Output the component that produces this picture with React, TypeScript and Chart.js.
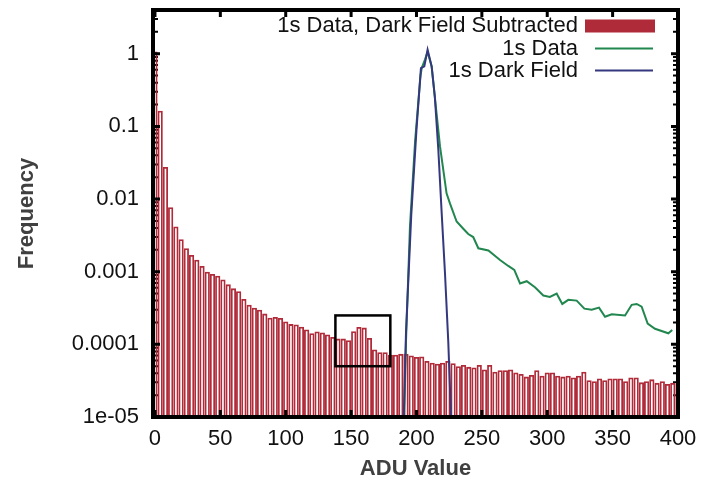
import React, { useEffect, useRef } from 'react';
import { Chart, registerables } from 'chart.js';

Chart.register(...registerables);

// ---------- data ----------
const binCenters = [
  0, 4, 8, 12, 16, 20, 24, 28, 32, 36, 40, 44, 48, 52, 56, 60, 64, 68, 72, 76,
  80, 84, 88, 92, 96, 100, 104, 108, 112, 116, 120, 124, 128, 132, 136, 140, 144, 148, 152, 156,
  160, 164, 168, 172, 176, 180, 184, 188, 192, 196, 200, 204, 208, 212, 216, 220, 224, 228, 232, 236,
  240, 244, 248, 252, 256, 260, 264, 268, 272, 276, 280, 284, 288, 292, 296, 300, 304, 308, 312, 316,
  320, 324, 328, 332, 336, 340, 344, 348, 352, 356, 360, 364, 368, 372, 376, 380, 384, 388, 392, 396, 400,
];

const subtractedFreq = [
  1.07, 0.164, 0.0276, 0.0077, 0.0042, 0.0028, 0.0021, 0.0017, 0.00146, 0.0012,
  0.001, 0.00093, 0.00088, 0.00078, 0.00067, 0.00059, 0.00054, 0.00042, 0.00035, 0.00032,
  0.0003, 0.000265, 0.000233, 0.000238, 0.00023, 0.000207, 0.00019, 0.000188, 0.000175, 0.00016,
  0.000142, 0.00015, 0.000146, 0.000137, 0.000126, 0.00012, 0.00012, 0.000114, 0.000152, 0.000173,
  0.00017, 0.000122, 0.000085, 0.000078, 0.000078, 0.000072, 0.000072, 0.000074, 0.000074, 0.0000705,
  0.000067, 0.000068, 0.000059, 0.000056, 0.000054, 0.000056, 0.000059, 0.000055, 0.00005, 0.000052,
  0.000049, 0.000048, 0.000052, 0.000045, 0.000052, 0.000042, 0.000044, 0.000044, 0.000045, 0.000041,
  0.000039, 0.000036, 0.000038, 0.000044, 0.000037, 0.000041, 0.000041, 0.000037, 0.000036, 0.000037,
  0.000035, 0.000037, 0.000042, 0.000032, 0.000031, 0.000034, 0.000032, 0.000034, 0.000034, 0.000034,
  0.000031, 0.000035, 0.000035, 0.00003, 0.000031, 0.000033, 0.0000295, 0.000031, 0.0000285, 0.0000295,
  0.000029,
];

const dataAdu = [
  188, 192, 195, 199, 203, 204, 206.5, 208.5, 211.6, 214, 218, 223, 225.6, 230.7, 235.8, 239.6,
  243.4, 247.3, 255, 263.9, 270.2, 274.8, 279.2, 284.3, 290.6, 297, 302, 307.2, 311.5, 316.1,
  322.5, 328.4, 334, 339.6, 344.2, 349.3, 359.5, 364.6, 368.4, 372.2, 376.8, 382.4, 392.6, 395.6,
];
const dataFreq = [
  1e-7, 0.000113, 0.00415, 0.065, 0.486, 0.635, 0.83, 1.06, 0.67, 0.258, 0.053, 0.012, 0.0087, 0.0049, 0.0039, 0.0033,
  0.003, 0.0021, 0.00196, 0.00145, 0.0012, 0.00106, 0.00069, 0.00074, 0.00061, 0.00047, 0.00045, 0.0005, 0.00036, 0.00041,
  0.0004, 0.00031, 0.0003, 0.00032, 0.00024, 0.00026, 0.00025, 0.00035, 0.00036, 0.00033, 0.000193, 0.000164, 0.000142, 0.000158,
];

const darkAdu = [188, 192, 196, 200, 203.4, 206, 208.5, 211.6, 214, 216.7, 219.3, 221.8, 224.3, 227.5];
const darkFreq = [3e-7, 0.00015, 0.006, 0.09, 0.635, 0.67, 1.14, 0.67, 0.26, 0.048, 0.0063, 0.00095, 0.00011, 3e-6];

const xTicks = [0, 50, 100, 150, 200, 250, 300, 350, 400];
const yTicks = [1e-5, 1e-4, 1e-3, 1e-2, 1e-1, 1];
const yTickLabels = ['1e-05', '0.0001', '0.001', '0.01', '0.1', '1'];

const boxX = [138, 180];
const boxY = [5e-5, 2.5e-4];

const seriesNames = ['1s Data, Dark Field Subtracted', '1s Data', '1s Dark Field'];
const seriesColors = ['#b02b39', '#21874f', '#35387f'];

const FONT = '"Liberation Sans", Arial, Helvetica, sans-serif';

// ---------- plugin: frame, ticks, box, legend ----------
const framePlugin = {
  id: 'gnuframe',
  beforeDatasetsDraw(chart: any) {
    const { ctx, chartArea: a, scales } = chart;
    const y = scales.y;
    ctx.save();
    ctx.strokeStyle = '#000';
    ctx.lineWidth = 2;
    for (let d = -5; d <= 0; d++) {
      for (let k = 2; k <= 9; k++) {
        const v = k * Math.pow(10, d);
        if (v > y.max) continue;
        const py = y.getPixelForValue(v);
        ctx.beginPath();
        ctx.moveTo(a.left, py);
        ctx.lineTo(a.left + 5, py);
        ctx.moveTo(a.right, py);
        ctx.lineTo(a.right - 5, py);
        ctx.stroke();
      }
    }
    ctx.restore();
  },
  afterDatasetsDraw(chart: any) {
    const { ctx, chartArea: a, scales } = chart;
    const x = scales.x;
    const y = scales.y;
    ctx.save();

    // zoom box annotation
    const bx0 = x.getPixelForValue(boxX[0]);
    const bx1 = x.getPixelForValue(boxX[1]);
    const by0 = y.getPixelForValue(boxY[0]);
    const by1 = y.getPixelForValue(boxY[1]);
    ctx.strokeStyle = '#000';
    ctx.lineWidth = 2.5;
    ctx.strokeRect(bx0, by1, bx1 - bx0, by0 - by1);

    // major ticks
    ctx.lineWidth = 3;
    for (const t of xTicks) {
      const px = x.getPixelForValue(t);
      ctx.beginPath();
      ctx.moveTo(px, a.bottom);
      ctx.lineTo(px, a.bottom - 7);
      ctx.moveTo(px, a.top);
      ctx.lineTo(px, a.top + 7);
      ctx.stroke();
    }
    for (const t of yTicks) {
      const py = y.getPixelForValue(t);
      ctx.beginPath();
      ctx.moveTo(a.left, py);
      ctx.lineTo(a.left + 7, py);
      ctx.moveTo(a.right, py);
      ctx.lineTo(a.right - 7, py);
      ctx.stroke();
    }

    // frame
    ctx.lineWidth = 4;
    ctx.strokeRect(a.left, a.top, a.right - a.left, a.bottom - a.top);

    // legend
    const textRight = 578;
    const rows = [26, 48.5, 70.5];
    ctx.font = `22px ${FONT}`;
    ctx.textAlign = 'right';
    ctx.textBaseline = 'middle';
    ctx.fillStyle = '#111';
    rows.forEach((ry, i) => ctx.fillText(seriesNames[i], textRight, ry));
    ctx.fillStyle = seriesColors[0];
    ctx.fillRect(585, rows[0] - 6.5, 70, 13);
    ctx.lineWidth = 2;
    for (let i = 1; i < 3; i++) {
      ctx.strokeStyle = seriesColors[i];
      ctx.beginPath();
      ctx.moveTo(595, rows[i]);
      ctx.lineTo(653, rows[i]);
      ctx.stroke();
    }
    ctx.restore();
  },
};

export default function App() {
  const canvasRef = useRef<HTMLCanvasElement | null>(null);

  useEffect(() => {
    const canvas = canvasRef.current;
    if (!canvas) return;
    const chart = new Chart(canvas, {
      type: 'bar',
      data: {
        datasets: [
          {
            type: 'line',
            label: seriesNames[2],
            data: darkAdu.map((v, i) => ({ x: v, y: darkFreq[i] })),
            borderColor: seriesColors[2],
            borderWidth: 2,
            pointRadius: 0,
            tension: 0,
            fill: false,
            order: 0,
          } as any,
          {
            type: 'line',
            label: seriesNames[1],
            data: dataAdu.map((v, i) => ({ x: v, y: dataFreq[i] })),
            borderColor: seriesColors[1],
            borderWidth: 2,
            pointRadius: 0,
            tension: 0,
            fill: false,
            order: 1,
          } as any,
          {
            type: 'bar',
            label: seriesNames[0],
            data: binCenters.map((v, i) => ({ x: v, y: subtractedFreq[i] })),
            backgroundColor: 'rgba(255,255,255,0)',
            borderColor: seriesColors[0],
            borderWidth: 1.8,
            borderSkipped: 'start',
            inflateAmount: 0,
            barPercentage: 1,
            categoryPercentage: 1,
            grouped: false,
            order: 2,
          } as any,
        ],
      },
      options: {
        responsive: false,
        animation: false,
        devicePixelRatio: 1,
        layout: { padding: { top: 10, right: 24, bottom: 0, left: 0 } },
        plugins: {
          legend: { display: false },
          tooltip: { enabled: false },
        },
        scales: {
          x: {
            type: 'linear',
            min: -1.5,
            max: 400,
            offset: false,
            grid: { display: false, drawTicks: false },
            border: { display: false },
            afterBuildTicks: (s: any) => {
              s.ticks = xTicks.map((v) => ({ value: v }));
            },
            afterFit: (s: any) => {
              s.height = 67;
              s.paddingLeft = 0;
              s.paddingRight = 0;
            },
            ticks: {
              autoSkip: false,
              maxRotation: 0,
              padding: 9,
              color: '#111',
              font: { family: FONT, size: 22 },
              callback: (v: any) => String(v),
            },
            title: {
              display: true,
              text: 'ADU Value',
              color: '#404040',
              font: { family: FONT, size: 22, weight: 'bold' },
              padding: { top: 0, bottom: 2 },
            },
          },
          y: {
            type: 'logarithmic',
            min: 1e-5,
            max: 4,
            grid: { display: false, drawTicks: false },
            border: { display: false },
            afterBuildTicks: (s: any) => {
              s.ticks = yTicks.map((v) => ({ value: v }));
            },
            afterFit: (s: any) => {
              s.width = 153;
              s.paddingTop = 0;
              s.paddingBottom = 0;
            },
            ticks: {
              autoSkip: false,
              padding: 14,
              color: '#111',
              font: { family: FONT, size: 22 },
              callback: (_v: any, i: number) => yTickLabels[i],
            },
            title: {
              display: true,
              text: 'Frequency',
              color: '#404040',
              font: { family: FONT, size: 22, weight: 'bold' },
              padding: { top: 14, bottom: 0 },
            },
          },
        },
      } as any,
      plugins: [framePlugin],
    });
    return () => chart.destroy();
  }, []);

  return (
    <div style={{ position: 'fixed', left: 0, top: 0, width: 702, height: 484, background: '#fff' }}>
      <canvas ref={canvasRef} width={702} height={484} />
    </div>
  );
}
